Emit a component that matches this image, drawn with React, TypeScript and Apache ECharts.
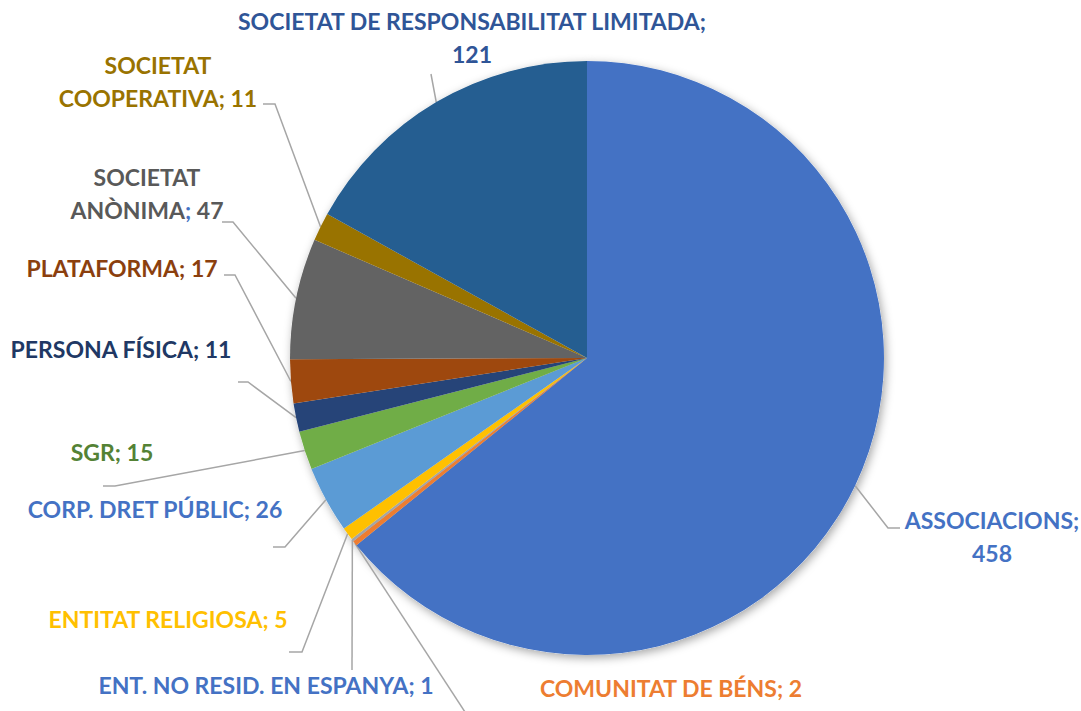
import React, { useEffect, useRef } from 'react';
import * as echarts from 'echarts';

const categories = [
  'ASSOCIACIONS',
  'COMUNITAT DE BÉNS',
  'ENT. NO RESID. EN ESPANYA',
  'ENTITAT RELIGIOSA',
  'CORP. DRET PÚBLIC',
  'SGR',
  'PERSONA FÍSICA',
  'PLATAFORMA',
  'SOCIETAT ANÒNIMA',
  'SOCIETAT COOPERATIVA',
  'SOCIETAT DE RESPONSABILITAT LIMITADA',
];
const values = [458, 2, 1, 5, 26, 15, 11, 17, 47, 11, 121];

const sliceColors = ['#4472C4', '#ED7D31', '#A5A5A5', '#FFC000', '#5B9BD5', '#70AD47', '#264478', '#9E480E', '#636363', '#997300', '#255E91'];
const labelColors = ['#4472C4', '#ED7D31', '#4472C4', '#FFC000', '#4472C4', '#548235', '#203864', '#8B3F0E', '#595959', '#997300', '#2F5597'];

// manual label placement (as in the source document): centre of text block, leader line bend + end
type Lay = { x: number; y: number; pts: number[][]; wrap: 'none' | 'value' | 'first' };
const labelLayouts: Lay[] = [
  { x: 992, y: 536, pts: [[888, 528], [900, 528]], wrap: 'value' },
  { x: 671, y: 688, pts: [[465, 712]], wrap: 'none' },
  { x: 266, y: 685, pts: [[352, 670]], wrap: 'none' },
  { x: 168, y: 619, pts: [[302, 652], [289, 652]], wrap: 'none' },
  { x: 155, y: 509, pts: [[285, 547], [273, 547]], wrap: 'none' },
  { x: 112, y: 452, pts: [[115, 486], [103, 486]], wrap: 'none' },
  { x: 121, y: 349, pts: [[248, 382], [238, 382]], wrap: 'none' },
  { x: 122, y: 268, pts: [[235, 275], [224, 275]], wrap: 'none' },
  { x: 147, y: 193, pts: [[233, 222], [222, 222]], wrap: 'first' },
  { x: 158, y: 81, pts: [[275, 104], [263, 104]], wrap: 'first' },
  { x: 472, y: 37, pts: [[431, 74]], wrap: 'value' },
];

const CX = 587;
const CY = 358;
const R = 297;
const FONT = 'Lato';
const FS = 23;
const LH = 33;

export default function App() {
  const ref = useRef<HTMLDivElement>(null);
  useEffect(() => {
    const chart = echarts.init(ref.current!, null, { renderer: 'svg' });
    const total = values.reduce((a, b) => a + b, 0);

    const data = categories.map((name, i) => {
      const item: any = {
        name,
        value: values[i],
        itemStyle: { color: sliceColors[i] },
        label: { color: labelColors[i] },
      };
      if (i === 8) {
        item.label.rich = {
          a: { color: '#595959', fontFamily: FONT, fontWeight: 'bold', fontSize: FS, lineHeight: LH },
          b: { color: '#4472C4', fontFamily: FONT, fontWeight: 'bold', fontSize: FS, lineHeight: LH },
        };
      }
      return item;
    });

    const formatter = (p: any) => {
      const i = p.dataIndex;
      const lay = labelLayouts[i];
      const name: string = p.name;
      if (i === 8) {
        const sp = name.indexOf(' ');
        return `{a|${name.slice(0, sp)}}\n{a|${name.slice(sp + 1)}}{b|;}{a| ${p.value}}`;
      }
      if (lay.wrap === 'value') return `${name};\n${p.value}`;
      if (lay.wrap === 'first') {
        const sp = name.indexOf(' ');
        return `${name.slice(0, sp)}\n${name.slice(sp + 1)}; ${p.value}`;
      }
      return `${name}; ${p.value}`;
    };

    chart.setOption({
      animation: false,
      backgroundColor: '#ffffff',
      series: [
        {
          type: 'pie',
          silent: true,
          center: [CX, CY],
          radius: R,
          startAngle: 90,
          clockwise: true,
          z: 1,
          data: values.map((v) => ({ value: v })),
          label: { show: false },
          labelLine: { show: false },
          itemStyle: {
            color: '#ffffff',
            shadowBlur: 10,
            shadowColor: 'rgba(0,0,0,0.35)',
            shadowOffsetX: 2,
            shadowOffsetY: 3,
          },
        },
        {
          type: 'pie',
          silent: true,
          center: [CX, CY],
          radius: R,
          startAngle: 90,
          clockwise: true,
          avoidLabelOverlap: false,
          z: 2,
          data,
          itemStyle: { borderWidth: 0 },
          label: {
            show: true,
            position: 'outside',
            fontFamily: FONT,
            fontWeight: 'bold',
            fontSize: FS,
            lineHeight: LH,
            align: 'center',
            formatter,
          },
          labelLine: { show: true, length: 10, length2: 10, lineStyle: { color: '#A6A6A6', width: 1.5 } },
          labelLayout: (params: any) => {
            const i = params.dataIndex;
            const lay = labelLayouts[i];
            let anchor: number[];
            if (params.labelLinePoints && params.labelLinePoints[0]) {
              anchor = params.labelLinePoints[0];
            } else {
              let before = 0;
              for (let k = 0; k < i; k++) before += values[k];
              const ang = ((before + values[i] / 2) / total) * Math.PI * 2;
              anchor = [CX + R * Math.sin(ang), CY - R * Math.cos(ang)];
            }
            return {
              x: lay.x,
              y: lay.y,
              align: 'center',
              verticalAlign: 'middle',
              labelLinePoints: [anchor, ...lay.pts],
            };
          },
        },
      ],
    });
    return () => chart.dispose();
  }, []);
  return <div ref={ref} style={{ position: 'fixed', left: 0, top: 0, width: 1081, height: 711 }} />;
}
